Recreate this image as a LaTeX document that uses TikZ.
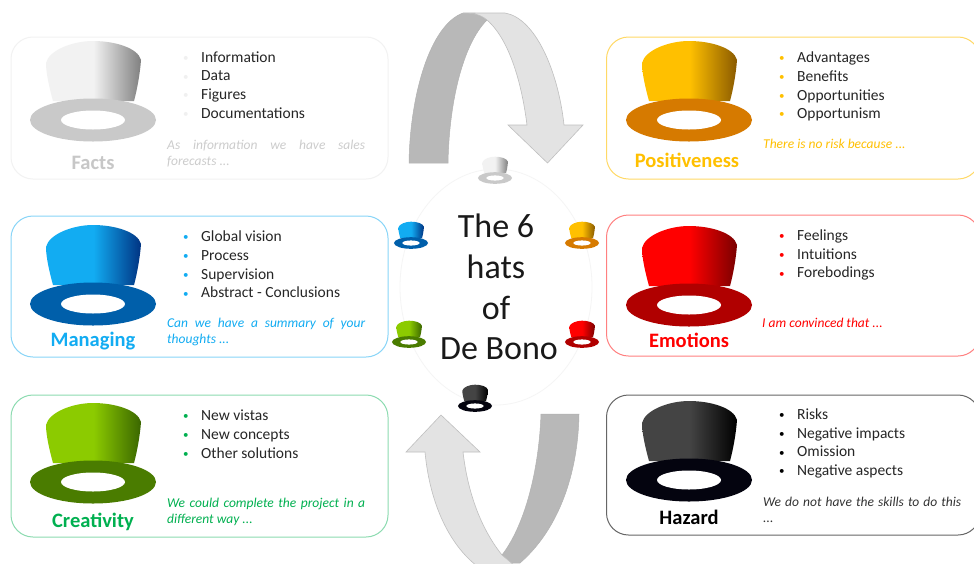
\documentclass[tikz,border=0pt]{standalone}
\usepackage{fontspec}
\setmainfont{Carlito}
\definecolor{factsC}{HTML}{F2F2F2}\definecolor{factsD}{HTML}{808080}\definecolor{factsB}{HTML}{C9C9C9}
\definecolor{manC}{HTML}{12ACF2}\definecolor{manD}{HTML}{003382}\definecolor{manB}{HTML}{005FAA}
\definecolor{creC}{HTML}{8CCB00}\definecolor{creD}{HTML}{3A6600}\definecolor{creB}{HTML}{4A7C00}
\definecolor{posC}{HTML}{FFC000}\definecolor{posD}{HTML}{8A5A00}\definecolor{posB}{HTML}{D67A00}
\definecolor{emoC}{HTML}{FF0000}\definecolor{emoD}{HTML}{7A0000}\definecolor{emoB}{HTML}{B00000}
\definecolor{hazC}{HTML}{444444}\definecolor{hazD}{HTML}{000000}\definecolor{hazB}{HTML}{04040F}
\definecolor{creT}{HTML}{00B050}
\newcommand{\declhat}[1]{\pgfdeclarehorizontalshading{hat#1}{100bp}{color(0bp)=(#1C); color(50bp)=(#1C); color(75bp)=(#1D); color(100bp)=(#1D)}}
\declhat{facts}\declhat{man}\declhat{cre}\declhat{pos}\declhat{emo}\declhat{haz}
\tikzset{
  card/.style={draw=#1,line width=1pt,rounded corners=22pt},
  title/.style={font=\fontsize{20.5}{22}\selectfont\bfseries,text=#1,inner sep=0pt},
  items/.style={font=\fontsize{15.5}{18.75}\selectfont,text=black!85,align=left,anchor=west,inner sep=0pt},
  remark/.style={font=\fontsize{13.5}{16.6}\selectfont\itshape,text=#1,inner sep=0pt,anchor=north west,text width=198pt,align=justify},
  pics/hat/.style n args={2}{code={
    \shade[shading=hat#1] (-40,-19) .. controls (-43,-30) and (-47,-46) .. (-47,-57)
      .. controls (-44,-70) and (-20,-79) .. (0,-79)
      .. controls (22,-79) and (45,-72) .. (48,-60)
      .. controls (47,-46) and (44,-30) .. (41,-19) -- cycle;
    \fill[#1B] (0,0) ellipse [x radius=63,y radius=21.5];
    \fill[white] (0,0) ellipse [x radius=32,y radius=9.5];
  }},
}
\newcommand{\bul}[1]{\makebox[17pt][l]{\hspace*{-1pt}\raisebox{.8pt}{\fontsize{11}{11}\selectfont\textcolor{#1}{•}}}}
\newcommand{\nh}{\hyphenpenalty=10000\relax}
\begin{document}
\begin{tikzpicture}[x=1pt,y=-1pt]
\useasboundingbox (0,0) rectangle (974,563);
\clip (0,0) rectangle (974,563);
\fill[white] (0,0) rectangle (974,563);
% cards
\draw[card=black!5] (11,37) rectangle (388,179);
\draw[card=manC!50] (11,216) rectangle (388,357);
\draw[card=creT!45] (11,395) rectangle (388,537);
\draw[card=posC!60] (606.5,37) rectangle (980,179);
\draw[card=emoC!50] (606.5,215) rectangle (980,356);
\draw[card=black!60] (606.5,395) rectangle (980,535);
% centre
\draw[black!4,line width=.8pt] (496,287) ellipse [x radius=96,y radius=118];
\node[align=center,font=\fontsize{34}{40.7}\selectfont,inner sep=0pt,text=black!90] (centre) at (496,287) {The 6\\hats\\of\\\hspace*{6pt}De Bono};
% arrows
\fill[black!28,draw=black!30,line width=.5pt] (409,163) .. controls (410,95) and (430,25) .. (463,13)
  -- (475,13) -- (487,20) .. controls (462,45) and (449,105) .. (448,163) -- cycle;
\fill[black!11,draw=black!25,line width=.6pt] (463,13) -- (505,13) .. controls (535,18) and (558,70) .. (564,125)
  -- (583,125) -- (547.5,163) -- (508,125) -- (527,125) .. controls (522,85) and (510,40) .. (487,20)
  .. controls (480,14) and (472,13) .. (463,13) -- cycle;
\fill[black!28,draw=black!30,line width=.5pt] (541,414) -- (579,414) .. controls (578,475) and (558,530) .. (520,563)
  -- (510,563) -- (502,555) .. controls (525,525) and (539,470) .. (541,414) -- cycle;
\fill[black!11,draw=black!25,line width=.6pt] (441,415) -- (480,452) -- (463,452) .. controls (468,495) and (482,530) .. (502,555)
  -- (515,566) -- (477,566) .. controls (450,545) and (430,505) .. (425,452) -- (406,452) -- cycle;
% large hats
\pic at (93,120) {hat={facts}{}};
\pic at (93,304) {hat={man}{}};
\pic at (93,482) {hat={cre}{}};
\pic at (689,120) {hat={pos}{}};
\pic at (689,305) {hat={emo}{}};
\pic at (689,480) {hat={haz}{}};
% small hats
\pic[scale=.27] at (495,178) {hat={facts}{}};
\pic[scale=.27] at (411,243) {hat={man}{}};
\pic[scale=.27] at (582,243) {hat={pos}{}};
\pic[scale=.27] at (409,342) {hat={cre}{}};
\pic[scale=.27] at (582,342) {hat={emo}{}};
\pic[scale=.27] at (475,406) {hat={haz}{}};
% titles
\node[title=black!22] (tfacts) at (93,163) {Facts};
\node[title=manC] (tman) at (93,341.5) {Managing};
\node[title=creT] (tcre) at (93,521.5) {Creativity};
\node[title=posC] (tpos) at (687,160) {Positiveness};
\node[title=emoC] (temo) at (689,340) {Emotions};
\node[title=black] (thaz) at (689,517) {Hazard};
% lists
\node[items] (lfacts) at (184,85) {\bul{black!6}Information\\\bul{black!6}Data\\\bul{black!6}Figures\\\bul{black!6}Documentations};
\node[items] (lman) at (184,264.5) {\bul{manC}Global vision\\\bul{manC}Process\\\bul{manC}Supervision\\\bul{manC}Abstract - Conclusions};
\node[items] (lcre) at (184,434) {\bul{creT}New vistas\\\bul{creT}New concepts\\\bul{creT}Other solutions};
\node[items] (lpos) at (780,86.5) {\bul{posC}Advantages\\\bul{posC}Benefits\\\bul{posC}Opportunities\\\bul{posC}Opportunism};
\node[items] (lemo) at (780,255) {\bul{emoC}Feelings\\\bul{emoC}Intuitions\\\bul{emoC}Forebodings};
\node[items] (lhaz) at (780,443.5) {\bul{black}Risks\\\bul{black}Negative impacts\\\bul{black}Omission\\\bul{black}Negative aspects};
% remarks
\node[remark=black!20] (rfacts) at (167,139.5) {\nh As information we have sales\linebreak forecasts ...};
\node[remark=manC] (rman) at (167,317.5) {\nh Can we have a summary of your\linebreak thoughts ...};
\node[remark=creT] (rcre) at (167,497.5) {\nh We could complete the project in a\linebreak different way ...};
\node[remark=posC] (rpos) at (763,138.5) {\nh There is no risk because ...};
\node[remark=emoC] (remo) at (762,317.5) {\nh I am convinced that ...};
\node[remark=black!80] (rhaz) at (763,496.5) {\nh We do not have the skills to do this\linebreak ...};
\end{tikzpicture}
\end{document}
